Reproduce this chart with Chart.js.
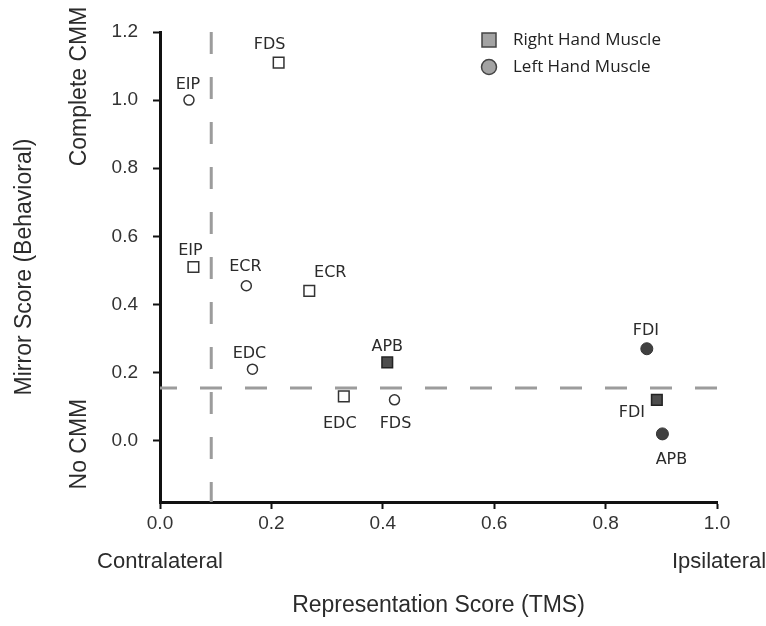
<!DOCTYPE html>
<html>
<head>
<meta charset="utf-8">
<script src="https://cdn.jsdelivr.net/npm/chart.js@4.4.1/dist/chart.umd.min.js"></script>
<style>
  html, body { margin: 0; padding: 0; background: #fff; }
  #wrap { width: 766px; height: 626px; }
</style>
</head>
<body>
<div id="wrap"><canvas id="mirrorChart" width="766" height="626"></canvas></div>
<script>
// Data
const rightOpenNames = ['EIP', 'FDS', 'ECR', 'EDC'];
const rightOpenX = [0.060, 0.213, 0.268, 0.330];
const rightOpenY = [0.51, 1.11, 0.44, 0.13];

const rightFilledNames = ['APB', 'FDI'];
const rightFilledX = [0.408, 0.892];
const rightFilledY = [0.23, 0.12];

const leftOpenNames = ['EIP', 'ECR', 'EDC', 'FDS'];
const leftOpenX = [0.052, 0.155, 0.166, 0.421];
const leftOpenY = [1.00, 0.455, 0.21, 0.12];

const leftFilledNames = ['FDI', 'APB'];
const leftFilledX = [0.874, 0.902];
const leftFilledY = [0.27, 0.02];

const cutoffX = 0.092;   // vertical dashed threshold
const cutoffY = 0.155;   // horizontal dashed threshold

const xTickVals = [0, 0.2, 0.4, 0.6, 0.8, 1.0];
const yTickVals = [0, 0.2, 0.4, 0.6, 0.8, 1.0, 1.2];
const yMin = -0.18, yMax = 1.2;

const legendLabels = ['Right Hand Muscle', 'Left Hand Muscle'];

// label placement next to each marker (px offsets)
const rightOpenOffsets = [[-3, -16], [-9, -18], [21, -18], [-4, 27]];
const rightFilledOffsets = [[0, -16], [-25, 13]];
const leftOpenOffsets = [[-1, -15], [-1, -19], [-3, -15], [1, 24]];
const leftFilledOffsets = [[-1, -18], [9, 26]];

const toPoints = (xs, ys) => xs.map((x, i) => ({ x: x, y: ys[i] }));

const axisFont = { family: "'Liberation Sans Narrow', 'Liberation Sans', Arial", size: 19 };
const titleFont = { family: "'Liberation Sans', Arial", size: 23 };

// Point name labels
const pointLabels = {
    id: 'pointLabels',
    afterDatasetsDraw(chart) {
        const ctx = chart.ctx;
        ctx.save();
        ctx.font = '16px "DejaVu Sans"';
        ctx.fillStyle = '#2b2b2b';
        ctx.textAlign = 'center';
        ctx.textBaseline = 'middle';
        chart.data.datasets.forEach((ds, i) => {
            if (!ds.names) return;
            const meta = chart.getDatasetMeta(i);
            meta.data.forEach((pt, j) => {
                const off = ds.offsets[j];
                ctx.fillText(ds.names[j], pt.x + off[0], pt.y + off[1]);
            });
        });
        ctx.restore();
    }
};

// Side annotations and legend
const extras = {
    id: 'extras',
    afterDraw(chart) {
        const ctx = chart.ctx;
        const xs = chart.scales.x, ys = chart.scales.y;
        ctx.save();
        ctx.fillStyle = '#2b2b2b';
        ctx.textAlign = 'center';
        ctx.textBaseline = 'middle';
        ctx.font = "23px 'Liberation Sans', Arial";

        const vertText = (txt, x, y) => {
            ctx.save();
            ctx.translate(x, y);
            ctx.rotate(-Math.PI / 2);
            ctx.fillText(txt, 0, 0);
            ctx.restore();
        };
        vertText('Complete CMM', 80, ys.getPixelForValue(1.04));
        vertText('No CMM', 80, ys.getPixelForValue(-0.01));

        ctx.font = "22px 'Liberation Sans', Arial";
        ctx.fillText('Contralateral', xs.getPixelForValue(0), 562);
        ctx.fillText('Ipsilateral', xs.getPixelForValue(1) + 2, 562);

        // legend
        ctx.lineWidth = 1.5;
        ctx.strokeStyle = '#444';
        ctx.fillStyle = '#a3a3a3';
        ctx.fillRect(482, 33, 14, 14);
        ctx.strokeRect(482, 33, 14, 14);
        ctx.beginPath();
        ctx.arc(489, 67, 7.5, 0, Math.PI * 2);
        ctx.fill();
        ctx.stroke();

        ctx.fillStyle = '#222';
        ctx.textAlign = 'left';
        ctx.font = "17px 'Open Sans'";
        ctx.fillText(legendLabels[0], 513, 40);
        ctx.fillText(legendLabels[1], 513, 67);
        ctx.restore();
    }
};

const ctx = document.getElementById('mirrorChart').getContext('2d');

new Chart(ctx, {
    type: 'scatter',
    data: {
        datasets: [
            {
                data: toPoints(rightOpenX, rightOpenY),
                names: rightOpenNames, offsets: rightOpenOffsets,
                pointStyle: 'rect', pointRadius: 7.5,
                backgroundColor: '#fff', borderColor: '#333', borderWidth: 1.5,
                order: 1
            },
            {
                data: toPoints(rightFilledX, rightFilledY),
                names: rightFilledNames, offsets: rightFilledOffsets,
                pointStyle: 'rect', pointRadius: 7.5,
                backgroundColor: '#4d4d4d', borderColor: '#222', borderWidth: 1.5,
                order: 1
            },
            {
                data: toPoints(leftOpenX, leftOpenY),
                names: leftOpenNames, offsets: leftOpenOffsets,
                pointStyle: 'circle', pointRadius: 5,
                backgroundColor: '#fff', borderColor: '#333', borderWidth: 1.5,
                order: 1
            },
            {
                data: toPoints(leftFilledX, leftFilledY),
                names: leftFilledNames, offsets: leftFilledOffsets,
                pointStyle: 'circle', pointRadius: 6,
                backgroundColor: '#404040', borderColor: '#333', borderWidth: 1,
                order: 1
            },
            {
                // vertical threshold
                data: [{ x: cutoffX, y: yMax }, { x: cutoffX, y: yMin }],
                showLine: true, pointRadius: 0,
                borderColor: '#9c9c9c', borderWidth: 3,
                borderDash: [22, 23],
                order: 5
            },
            {
                // horizontal threshold
                data: [{ x: 0, y: cutoffY }, { x: 1, y: cutoffY }],
                showLine: true, pointRadius: 0,
                borderColor: '#9c9c9c', borderWidth: 3,
                borderDash: [22, 23], borderDashOffset: 5,
                order: 5
            }
        ]
    },
    options: {
        responsive: false,
        animation: false,
        devicePixelRatio: 1,
        layout: { padding: { top: 32, right: 49, left: 0, bottom: 0 } },
        plugins: {
            legend: { display: false },
            tooltip: { enabled: false }
        },
        scales: {
            x: {
                type: 'linear', min: 0, max: 1,
                afterFit: s => { s.height = 124; },
                afterBuildTicks: s => { s.ticks = xTickVals.map(v => ({ value: v })); },
                grid: { drawOnChartArea: false, drawTicks: true, tickLength: 7, tickWidth: 2, tickColor: '#111' },
                border: { display: true, color: '#111', width: 3 },
                ticks: { color: '#333', font: axisFont, padding: 3, callback: v => v.toFixed(1) },
                title: {
                    display: true, text: 'Representation Score (TMS)',
                    color: '#2b2b2b', font: titleFont, padding: { top: 0, bottom: 7 }
                }
            },
            y: {
                type: 'linear', min: yMin, max: yMax,
                afterFit: s => { s.width = 160; },
                afterBuildTicks: s => { s.ticks = yTickVals.map(v => ({ value: v })); },
                grid: { drawOnChartArea: false, drawTicks: true, tickLength: 7, tickWidth: 2, tickColor: '#111' },
                border: { display: true, color: '#111', width: 3 },
                ticks: { color: '#333', font: axisFont, padding: 15, callback: v => v.toFixed(1) },
                title: {
                    display: true, text: 'Mirror Score (Behavioral)',
                    color: '#2b2b2b', font: titleFont, padding: { top: 11, bottom: 0 }
                }
            }
        }
    },
    plugins: [pointLabels, extras]
});
</script>
</body>
</html>
